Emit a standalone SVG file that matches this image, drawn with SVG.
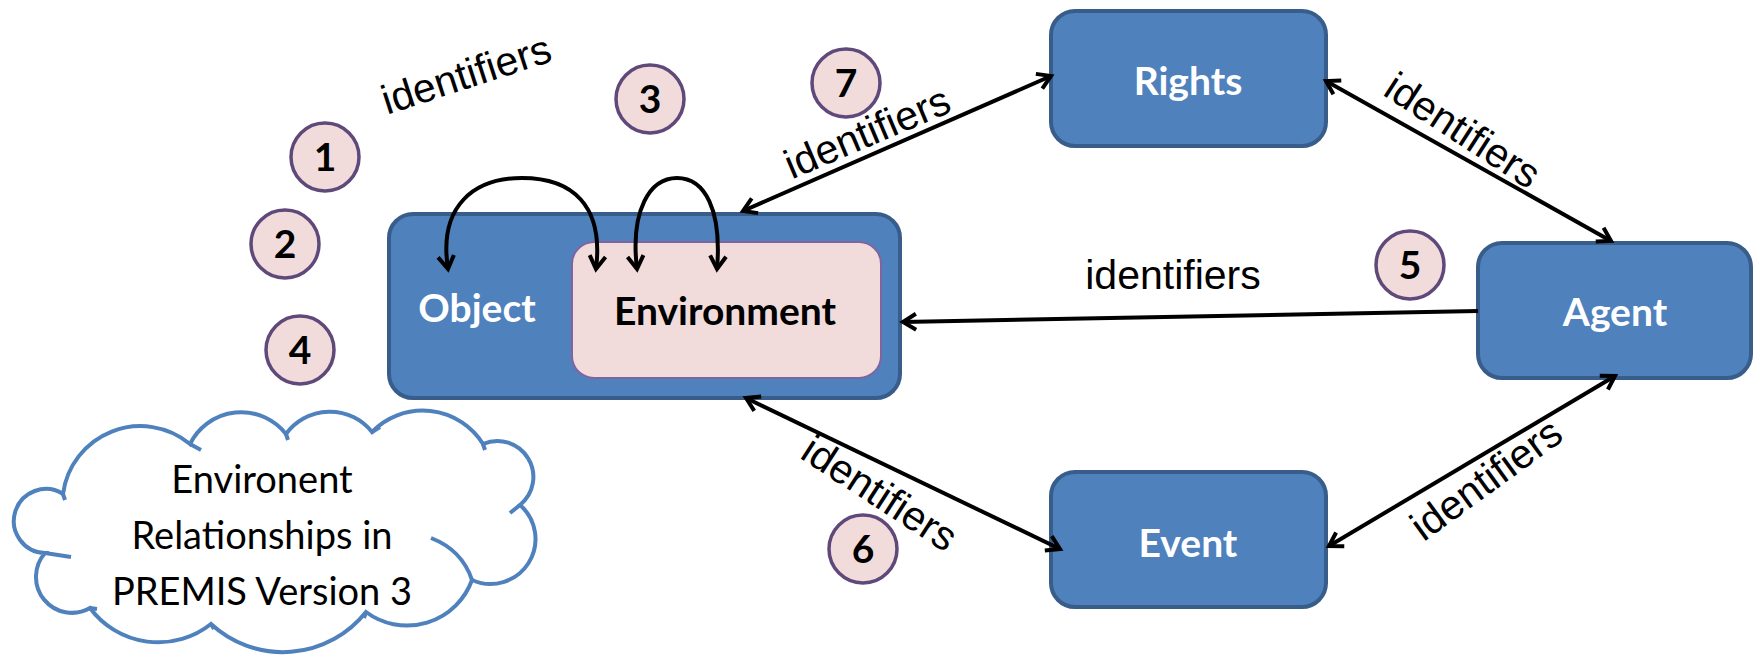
<svg xmlns="http://www.w3.org/2000/svg" width="1758" height="655" viewBox="0 0 1758 655">
<style>
.box{fill:#4f81bd;stroke:#385d8a;stroke-width:4}
.env{fill:#f2dcdb;stroke:#8064a2;stroke-width:2}
.lbl{font-family:Lato,"Liberation Sans",sans-serif;font-weight:bold;font-size:39px;fill:#fff;text-anchor:middle}
.num circle{fill:#f2dcdb;stroke:#5f497a;stroke-width:3.5}
.num text{font-family:Lato,"Liberation Sans",sans-serif;font-weight:bold;font-size:39px;fill:#000;text-anchor:middle}
.id{font-family:"Liberation Sans",Arial,sans-serif;font-size:41px;fill:#000;text-anchor:middle}
.con{stroke:#000;stroke-width:4;fill:none}
.cloudtxt{font-family:Lato,"Liberation Sans",sans-serif;font-size:38px;fill:#000;text-anchor:middle}
.tail{fill:none;stroke:#4f81bd;stroke-width:4}
</style>
<defs>
<marker id="ah" markerUnits="userSpaceOnUse" markerWidth="24" markerHeight="24" refX="15" refY="10" orient="auto-start-reverse" viewBox="0 0 24 20">
<path d="M2,2 L15,10 L2,18" fill="none" stroke="#000" stroke-width="4" stroke-linejoin="miter"/>
</marker>
</defs>
<rect width="1758" height="655" fill="#fff"/>

<g id="cloud">
<path d="M63,494 A78,78 0 0 1 190,444 A57,57 0 0 1 286,434 A54,54 0 0 1 372,432 A71,71 0 0 1 483,444 A36,36 0 0 1 520,505 A45,45 0 0 1 472,580 A69,69 0 0 1 366,612 A106,106 0 0 1 211,624 A85,85 0 0 1 90,608 A36,36 0 0 1 45,553 A32,32 0 1 1 63,494 Z" fill="#fff" stroke="#4f81bd" stroke-width="4"/>
<path class="tail" d="M63,494 L65,500 M190,444 L201,450 M286,434 L288,440 M372,432 L380,427 M483,444 L485,450 M520,505 L510,513 M472,580 Q462,550 431,538 M366,612 L364,618 M211,624 L214,629 M90,608 L97,609 M45,553 L71,557"/>
<text class="cloudtxt" x="262" y="493">Environent</text>
<text class="cloudtxt" x="262" y="549">Relationships in</text>
<text class="cloudtxt" x="262" y="605">PREMIS Version 3</text>
</g>

<g id="object">
<rect class="box" x="389" y="214" width="511" height="184" rx="24"/>
<text class="lbl" x="477" y="322">Object</text>
</g>
<g id="environment">
<rect class="env" x="572" y="242" width="309" height="136" rx="22"/>
<text class="lbl" x="725" y="325" style="fill:#000">Environment</text>
</g>
<g id="rights">
<rect class="box" x="1051" y="11" width="275" height="135" rx="24"/>
<text class="lbl" x="1188" y="95">Rights</text>
</g>
<g id="agent">
<rect class="box" x="1478" y="243" width="273" height="135" rx="24"/>
<text class="lbl" x="1615" y="326">Agent</text>
</g>
<g id="event">
<rect class="box" x="1051" y="472" width="275" height="135" rx="24"/>
<text class="lbl" x="1188" y="557">Event</text>
</g>

<g id="connectors">
<line class="con" x1="743" y1="211" x2="1051" y2="76" marker-start="url(#ah)" marker-end="url(#ah)"/>
<line class="con" x1="1326" y1="81" x2="1611" y2="241" marker-start="url(#ah)" marker-end="url(#ah)"/>
<line class="con" x1="1478" y1="311" x2="903" y2="322" marker-end="url(#ah)"/>
<line class="con" x1="746" y1="398" x2="1060" y2="549" marker-start="url(#ah)" marker-end="url(#ah)"/>
<line class="con" x1="1329" y1="546" x2="1615" y2="376" marker-start="url(#ah)" marker-end="url(#ah)"/>
<path class="con" d="M448,269 C438,205 475,178 522,178 C572,178 604,205 596,269" marker-start="url(#ah)" marker-end="url(#ah)"/>
<path class="con" d="M637,269 C630,210 650,178 677,178 C705,178 722,210 717,269" marker-start="url(#ah)" marker-end="url(#ah)"/>
</g>

<g id="labels">
<text class="id" transform="translate(466,74) rotate(-18)" dy="0.35em">identifiers</text>
<text class="id" transform="translate(867,132) rotate(-23)" dy="0.35em">identifiers</text>
<text class="id" transform="translate(1463,130) rotate(33)" dy="0.35em">identifiers</text>
<text class="id" x="1173" y="289">identifiers</text>
<text class="id" transform="translate(880,493) rotate(33)" dy="0.35em">identifiers</text>
<text class="id" transform="translate(1486,479) rotate(-36)" dy="0.35em">identifiers</text>
</g>

<g id="n1" class="num"><circle cx="325" cy="157" r="34"/><text x="325" y="171">1</text></g>
<g id="n2" class="num"><circle cx="285" cy="244" r="34"/><text x="285" y="258">2</text></g>
<g id="n3" class="num"><circle cx="650" cy="99" r="34"/><text x="650" y="113">3</text></g>
<g id="n4" class="num"><circle cx="300" cy="350" r="34"/><text x="300" y="364">4</text></g>
<g id="n5" class="num"><circle cx="1410" cy="265" r="34"/><text x="1410" y="279">5</text></g>
<g id="n6" class="num"><circle cx="863" cy="549" r="34"/><text x="863" y="563">6</text></g>
<g id="n7" class="num"><circle cx="846" cy="83" r="34"/><text x="846" y="97">7</text></g>
</svg>
